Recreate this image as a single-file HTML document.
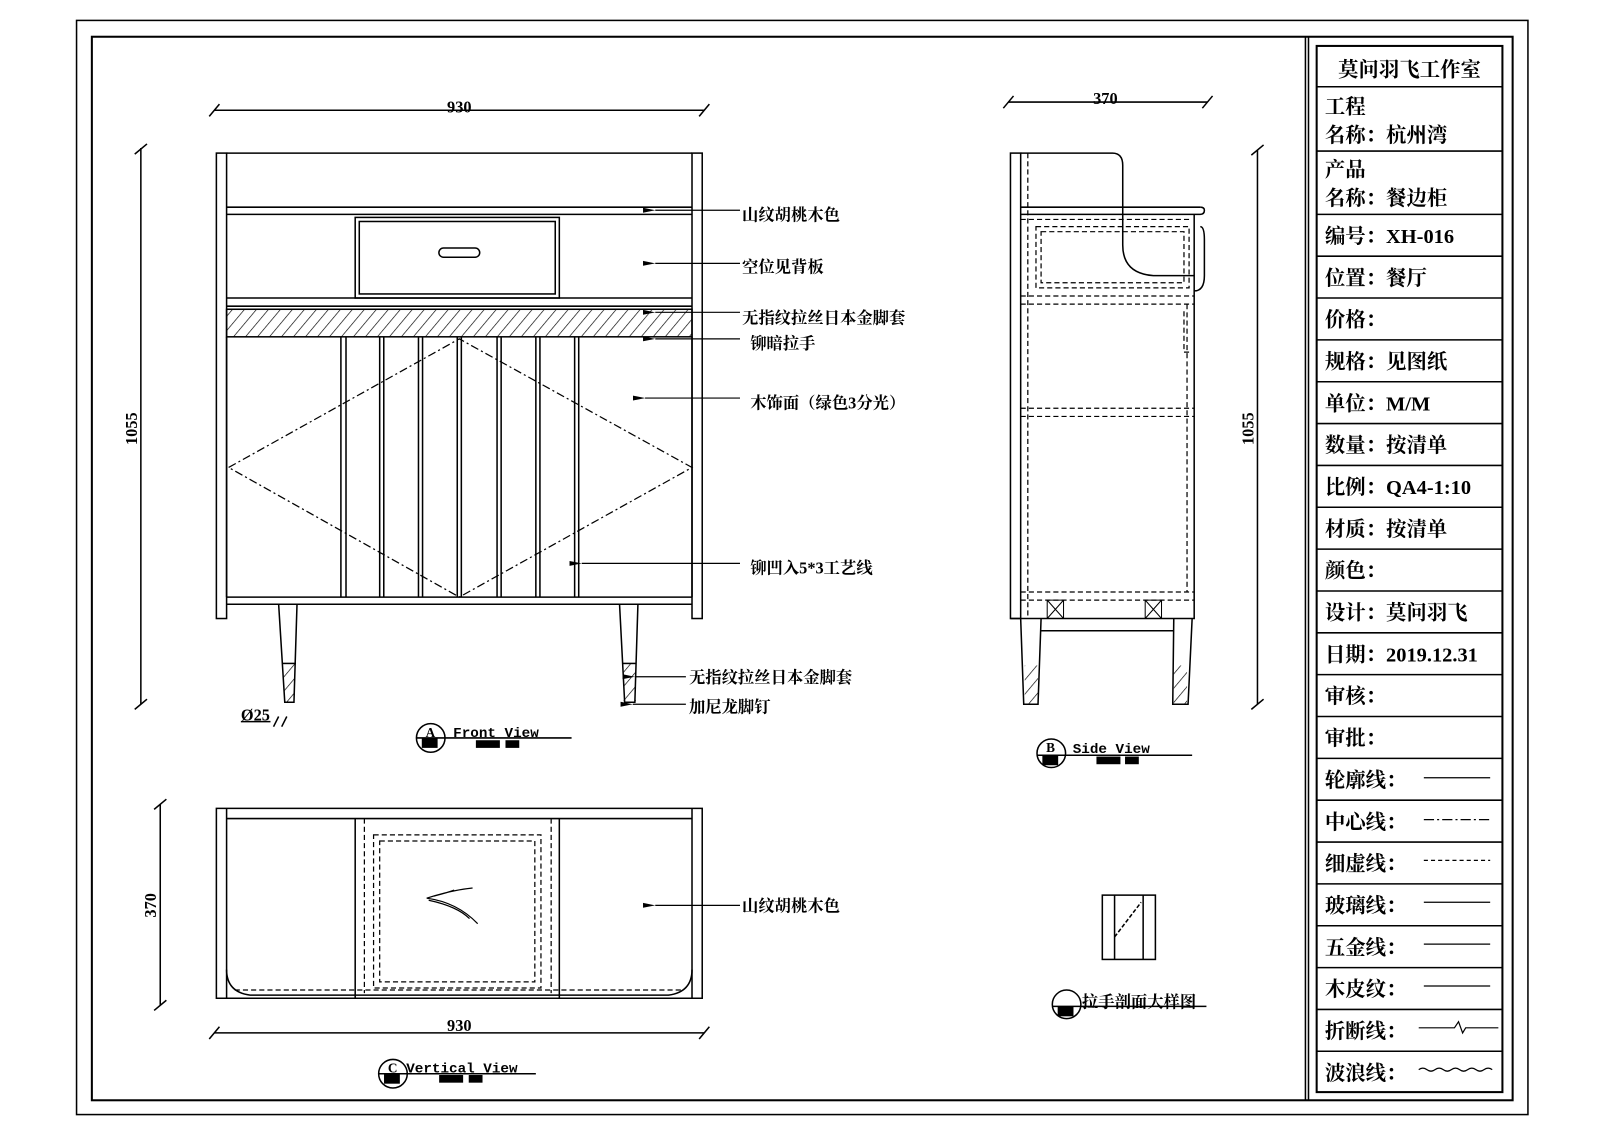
<!DOCTYPE html>
<html><head><meta charset="utf-8"><style>
html,body{margin:0;padding:0;background:#fff;}
svg{display:block;}
text{font-family:"Liberation Serif","Noto Serif CJK SC","Noto Sans CJK SC",serif;font-weight:bold;fill:#000;}
.t{font-size:20px;}
.l{font-size:16px;}
</style></head><body>
<svg width="1600" height="1136" viewBox="0 0 1567.6 1113" preserveAspectRatio="none" xmlns="http://www.w3.org/2000/svg">
<defs>
<pattern id="h" width="9" height="9" patternUnits="userSpaceOnUse" patternTransform="rotate(40)">
<line x1="0" y1="0" x2="0" y2="9" stroke="#000" stroke-width="1.3"/>
</pattern>
<marker id="a" markerWidth="10" markerHeight="6" refX="0" refY="3" orient="auto"><path d="M0,3 L10,1 L10,5 Z" fill="#000"/></marker>
</defs>
<g fill="none" stroke="#000" stroke-width="1.5">
<rect x="75" y="20" width="1422" height="1072"/>
<rect x="90" y="36" width="1392" height="1042" stroke-width="2"/>
<line x1="1279" y1="36" x2="1279" y2="1078"/>
<line x1="1282" y1="36" x2="1282" y2="1078"/>
<rect x="1290" y="45" width="182" height="1025" stroke-width="2"/>
<line x1="1290" y1="85" x2="1472" y2="85"/>
<line x1="1290" y1="148" x2="1472" y2="148"/>
<line x1="1290" y1="210" x2="1472" y2="210"/>
<line x1="1290" y1="251" x2="1472" y2="251"/><line x1="1290" y1="292" x2="1472" y2="292"/><line x1="1290" y1="333" x2="1472" y2="333"/><line x1="1290" y1="374" x2="1472" y2="374"/><line x1="1290" y1="415" x2="1472" y2="415"/><line x1="1290" y1="456" x2="1472" y2="456"/><line x1="1290" y1="497" x2="1472" y2="497"/><line x1="1290" y1="538" x2="1472" y2="538"/><line x1="1290" y1="579" x2="1472" y2="579"/><line x1="1290" y1="620" x2="1472" y2="620"/><line x1="1290" y1="661" x2="1472" y2="661"/><line x1="1290" y1="702" x2="1472" y2="702"/><line x1="1290" y1="743" x2="1472" y2="743"/><line x1="1290" y1="784" x2="1472" y2="784"/><line x1="1290" y1="825" x2="1472" y2="825"/><line x1="1290" y1="866" x2="1472" y2="866"/><line x1="1290" y1="907" x2="1472" y2="907"/><line x1="1290" y1="948" x2="1472" y2="948"/><line x1="1290" y1="989" x2="1472" y2="989"/><line x1="1290" y1="1030" x2="1472" y2="1030"/>
<g stroke-width="1.2">
<line x1="1395" y1="762" x2="1460" y2="762"/>
<line x1="1395" y1="803" x2="1460" y2="803" stroke-dasharray="10,3,2,3"/>
<line x1="1395" y1="843" x2="1460" y2="843" stroke-dasharray="4,3"/>
<line x1="1395" y1="884" x2="1460" y2="884"/>
<line x1="1395" y1="925" x2="1460" y2="925"/>
<line x1="1395" y1="966" x2="1460" y2="966"/>
<path d="M1390,1007 H1425 L1429,1001 L1433,1012 L1436,1007 H1468"/>
<path d="M1390,1048 q4,-3 8,0 t8,0 t8,0 t8,0 t8,0 t8,0 t8,0 t8,0 t8,0"/>
</g>

<rect x="212" y="150" width="10" height="456"/>
<rect x="678" y="150" width="10" height="456"/>
<line x1="222" y1="150" x2="678" y2="150"/>
<line x1="222" y1="203" x2="678" y2="203"/>
<line x1="222" y1="210" x2="678" y2="210"/>
<rect x="348" y="213" width="200" height="79"/>
<rect x="352" y="217" width="192" height="71"/>
<rect x="430" y="243" width="40" height="9" rx="4.5"/>
<line x1="222" y1="292" x2="678" y2="292"/>
<line x1="222" y1="300" x2="678" y2="300"/>
<rect x="222" y="303" width="456" height="27" fill="url(#h)"/>
<line x1="222" y1="330" x2="222" y2="585"/>
<line x1="678" y1="330" x2="678" y2="585"/>
<line x1="222" y1="585" x2="678" y2="585"/>
<line x1="222" y1="592" x2="678" y2="592"/>
<g>
<line x1="334" y1="330" x2="334" y2="585"/><line x1="339" y1="330" x2="339" y2="585"/>
<line x1="372" y1="330" x2="372" y2="585"/><line x1="376" y1="330" x2="376" y2="585"/>
<line x1="410" y1="330" x2="410" y2="585"/><line x1="414" y1="330" x2="414" y2="585"/>
<line x1="448" y1="330" x2="448" y2="585"/><line x1="452" y1="330" x2="452" y2="585"/>
<line x1="487" y1="330" x2="487" y2="585"/><line x1="491" y1="330" x2="491" y2="585"/>
<line x1="525" y1="330" x2="525" y2="585"/><line x1="529" y1="330" x2="529" y2="585"/>
<line x1="563" y1="330" x2="563" y2="585"/><line x1="567" y1="330" x2="567" y2="585"/>
</g>
<path d="M224,458 L450,332 L678,458 L450,585 Z" stroke-dasharray="8,3,2,3" stroke-width="1.2"/>
<path d="M273,592 L279,688 H288 L291,592"/>
<line x1="277" y1="650" x2="290" y2="650"/>
<rect x="278" y="650" width="11" height="38" fill="url(#h)" stroke="none"/>
<path d="M607,592 L612,688 H622 L625,592"/>
<line x1="610" y1="650" x2="623" y2="650"/>
<rect x="611" y="650" width="12" height="38" fill="url(#h)" stroke="none"/>
<line x1="725" y1="206" x2="642" y2="206" marker-end="url(#a)" stroke-width="1.2"/>
<line x1="725" y1="258" x2="642" y2="258" marker-end="url(#a)" stroke-width="1.2"/>
<line x1="725" y1="306" x2="642" y2="306" marker-end="url(#a)" stroke-width="1.2"/>
<line x1="725" y1="332" x2="642" y2="332" marker-end="url(#a)" stroke-width="1.2"/>
<line x1="725" y1="390" x2="632" y2="390" marker-end="url(#a)" stroke-width="1.2"/>
<line x1="725" y1="552" x2="570" y2="552" marker-end="url(#a)" stroke-width="1.2"/>
<line x1="672" y1="663" x2="622" y2="663" marker-end="url(#a)" stroke-width="1.2"/>
<line x1="672" y1="690" x2="620" y2="690" marker-end="url(#a)" stroke-width="1.2"/>
<line x1="210" y1="108" x2="690" y2="108"/>
<line x1="205" y1="114" x2="215" y2="102"/><line x1="685" y1="114" x2="695" y2="102"/>
<line x1="138" y1="145" x2="138" y2="690"/>
<line x1="132" y1="151" x2="144" y2="141"/><line x1="132" y1="695" x2="144" y2="685"/>
<line x1="236" y1="707" x2="265" y2="707"/>
<path d="M268,712 l5,-10 M276,712 l5,-10"/>
<circle cx="422" cy="723" r="14"/>
<line x1="408" y1="723" x2="560" y2="723"/>
<rect x="414" y="724" width="14" height="8" fill="#000"/>
<rect x="467" y="726" width="22" height="6" fill="#000"/><rect x="496" y="726" width="12" height="6" fill="#000"/>

<rect x="990" y="150" width="10" height="456"/>
<path d="M1000,150 H1090 Q1100,150 1100,162 V240 Q1100,268 1130,270 H1170"/>
<line x1="1000" y1="203" x2="1176" y2="203"/>
<path d="M1000,210 H1176 Q1180,210 1180,206 Q1180,203 1176,203"/>
<g stroke-dasharray="5,3" stroke-width="1.2">
<line x1="1007" y1="150" x2="1007" y2="606"/>
<line x1="1000" y1="215" x2="1168" y2="215"/>
<rect x="1015" y="222" width="150" height="60"/>
<rect x="1020" y="227" width="140" height="50"/>
<line x1="1000" y1="290" x2="1170" y2="290"/>
<line x1="1000" y1="298" x2="1170" y2="298"/>
<line x1="1000" y1="400" x2="1170" y2="400"/>
<line x1="1000" y1="408" x2="1170" y2="408"/>
<line x1="1000" y1="580" x2="1170" y2="580"/>
<line x1="1000" y1="588" x2="1170" y2="588"/>
<line x1="1163" y1="298" x2="1163" y2="580"/>
<path d="M1160,305 V345 H1168"/>
</g>
<path d="M1170,210 V606 H990"/>
<path d="M1176,222 Q1180,222 1180,235 V270 Q1180,285 1170,285"/>
<path d="M1026,588 h16 v18 h-16 z M1026,588 l16,18 M1042,588 l-16,18" stroke-width="1"/>
<path d="M1122,588 h16 v18 h-16 z M1122,588 l16,18 M1138,588 l-16,18" stroke-width="1"/>
<path d="M1000,606 L1003,690 H1017 L1020,606"/>
<path d="M1150,606 L1149,690 H1164 L1168,606"/>
<line x1="1020" y1="618" x2="1150" y2="618"/>
<rect x="1004" y="652" width="13" height="38" fill="url(#h)" stroke="none"/>
<rect x="1150" y="652" width="13" height="38" fill="url(#h)" stroke="none"/>
<line x1="988" y1="100" x2="1183" y2="100"/>
<line x1="983" y1="106" x2="993" y2="94"/><line x1="1178" y1="106" x2="1188" y2="94"/>
<line x1="1232" y1="147" x2="1232" y2="690"/>
<line x1="1226" y1="152" x2="1238" y2="142"/><line x1="1226" y1="695" x2="1238" y2="685"/>
<circle cx="1030" cy="738" r="14"/>
<line x1="1016" y1="740" x2="1168" y2="740"/>
<rect x="1022" y="741" width="14" height="8" fill="#000"/>
<rect x="1075" y="742" width="22" height="6" fill="#000"/><rect x="1103" y="742" width="12" height="6" fill="#000"/>

<path d="M212,792 H688 V978 H212 Z"/>
<line x1="222" y1="792" x2="222" y2="978"/>
<line x1="678" y1="792" x2="678" y2="978"/>
<line x1="222" y1="802" x2="678" y2="802"/>
<path d="M222,950 Q222,972 245,975 H655 Q678,972 678,950"/>
<line x1="348" y1="802" x2="348" y2="978"/>
<line x1="548" y1="802" x2="548" y2="978"/>
<g stroke-dasharray="5,3" stroke-width="1.2">
<line x1="357" y1="802" x2="357" y2="973"/>
<line x1="540" y1="802" x2="540" y2="973"/>
<rect x="366" y="818" width="164" height="150"/>
<rect x="372" y="824" width="152" height="138"/>
<line x1="230" y1="970" x2="670" y2="970"/>
</g>
<path d="M418,880 q25,-8 45,-10 M418,880 q30,4 50,25 M420,882 q28,6 40,18 M425,878 q15,-4 20,-6" stroke-width="1.2"/>
<line x1="725" y1="887" x2="642" y2="887" marker-end="url(#a)" stroke-width="1.2"/>
<line x1="210" y1="1012" x2="690" y2="1012"/>
<line x1="205" y1="1018" x2="215" y2="1006"/><line x1="685" y1="1018" x2="695" y2="1006"/>
<line x1="157" y1="788" x2="157" y2="985"/>
<line x1="151" y1="793" x2="163" y2="783"/><line x1="151" y1="990" x2="163" y2="980"/>
<circle cx="385" cy="1052" r="14"/>
<line x1="371" y1="1052" x2="525" y2="1052"/>
<rect x="377" y="1053" width="14" height="8" fill="#000"/>
<rect x="431" y="1054" width="22" height="6" fill="#000"/><rect x="460" y="1054" width="12" height="6" fill="#000"/>

<rect x="1080" y="877" width="52" height="63"/>
<line x1="1092" y1="877" x2="1092" y2="940"/>
<line x1="1120" y1="877" x2="1120" y2="940"/>
<line x1="1092" y1="918" x2="1118" y2="884" stroke-dasharray="4,2"/>
<circle cx="1045" cy="984" r="14"/>
<line x1="1031" y1="986" x2="1182" y2="986"/>
<rect x="1037" y="987" width="14" height="8" fill="#000"/>
</g>

<text class="t" x="1381" y="75" text-anchor="middle">莫问羽飞工作室</text>
<text class="t" x="1298" y="111">工程</text>
<text class="t" x="1298" y="139">名称：杭州湾</text>
<text class="t" x="1298" y="173">产品</text>
<text class="t" x="1298" y="201">名称：餐边柜</text>
<text class="t" x="1298" y="238">编号：XH-016</text>
<text class="t" x="1298" y="279">位置：餐厅</text>
<text class="t" x="1298" y="320">价格：</text>
<text class="t" x="1298" y="361">规格：见图纸</text>
<text class="t" x="1298" y="402">单位：M/M</text>
<text class="t" x="1298" y="443">数量：按清单</text>
<text class="t" x="1298" y="484">比例：QA4-1:10</text>
<text class="t" x="1298" y="525">材质：按清单</text>
<text class="t" x="1298" y="566">颜色：</text>
<text class="t" x="1298" y="607">设计：莫问羽飞</text>
<text class="t" x="1298" y="648">日期：2019.12.31</text>
<text class="t" x="1298" y="689">审核：</text>
<text class="t" x="1298" y="730">审批：</text>
<text class="t" x="1298" y="771">轮廓线：</text>
<text class="t" x="1298" y="812">中心线：</text>
<text class="t" x="1298" y="853">细虚线：</text>
<text class="t" x="1298" y="894">玻璃线：</text>
<text class="t" x="1298" y="935">五金线：</text>
<text class="t" x="1298" y="976">木皮纹：</text>
<text class="t" x="1298" y="1017">折断线：</text>
<text class="t" x="1298" y="1058">波浪线：</text>

<text class="l" x="727" y="216">山纹胡桃木色</text>
<text class="l" x="727" y="267">空位见背板</text>
<text class="l" x="727" y="317">无指纹拉丝日本金脚套</text>
<text class="l" x="735" y="342">铆暗拉手</text>
<text class="l" x="735" y="400">木饰面（绿色3分光）</text>
<text class="l" x="735" y="562">铆凹入5*3工艺线</text>
<text class="l" x="675" y="669">无指纹拉丝日本金脚套</text>
<text class="l" x="675" y="698">加尼龙脚钉</text>
<text class="l" x="727" y="893">山纹胡桃木色</text>
<text class="l" x="1060" y="987">拉手剖面大样图</text>
<text class="l" x="450" y="110" text-anchor="middle">930</text>
<text class="l" x="1083" y="102" text-anchor="middle">370</text>
<text class="l" x="450" y="1010" text-anchor="middle">930</text>
<text class="l" transform="translate(134,420) rotate(-90)" text-anchor="middle">1055</text>
<text class="l" transform="translate(1228,420) rotate(-90)" text-anchor="middle">1055</text>
<text class="l" transform="translate(153,887) rotate(-90)" text-anchor="middle">370</text>
<text class="l" x="236" y="706">Ø25</text>
<text x="417" y="722" style="font-size:13px">A</text>
<text x="444" y="722" style="font-size:14px;font-family:'Liberation Mono',monospace">Front View</text>
<text x="1025" y="737" style="font-size:13px">B</text>
<text x="1051" y="738" style="font-size:14px;font-family:'Liberation Mono',monospace">Side View</text>
<text x="380" y="1051" style="font-size:13px">C</text>
<text x="398" y="1051" style="font-size:14px;font-family:'Liberation Mono',monospace">Vertical View</text>
</svg>
</body></html>
